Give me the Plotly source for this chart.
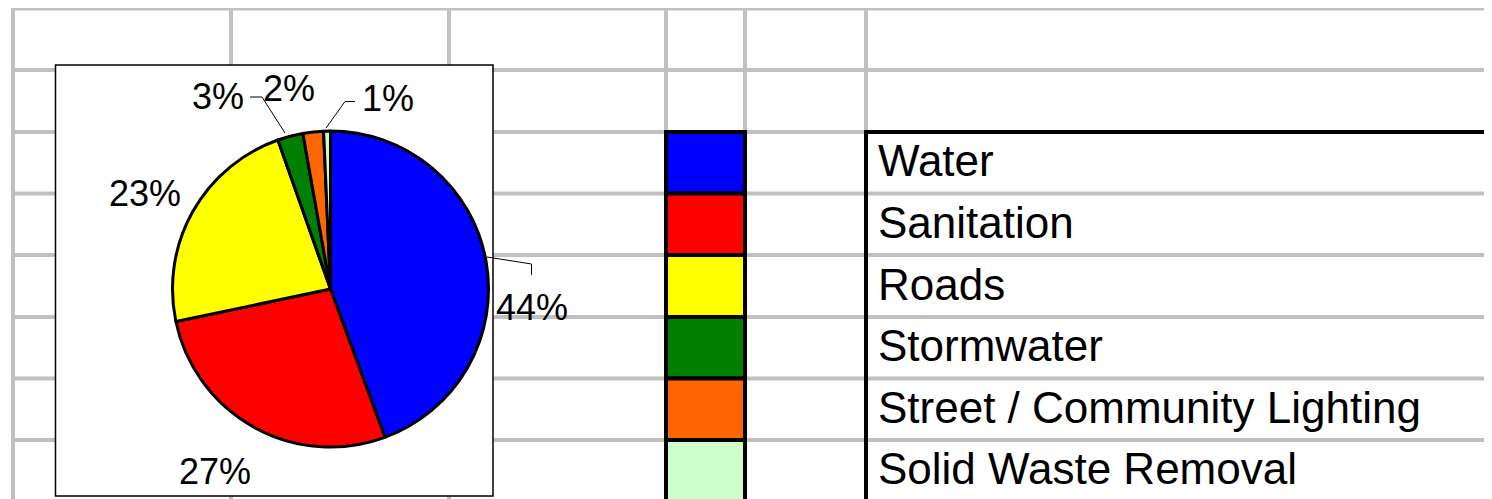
import plotly.graph_objects as go

# ---- data ----
categories = ["Water", "Sanitation", "Roads", "Stormwater",
              "Street / Community Lighting", "Solid Waste Removal"]
values = [44.4, 27.3, 22.9, 2.6, 2.1, 0.7]
colors = ["#0000FF", "#FF0000", "#FFFF00", "#008000", "#FF6600", "#CCFFCC"]

# ---- layout geometry (page pixel units; the page body has an 8px margin) ----
PAGE_W, PAGE_H, OFF = 1492, 499, 8
W, H = PAGE_W - OFF, PAGE_H - OFF
row_y = [8.5, 70, 132, 193.5, 255, 317, 378.5, 440, 501.5]
col_x = [13, 231, 449, 666, 745, 866]
grid_color = "#C0C0C0"
FONT = "Arial, Liberation Sans, sans-serif"

shapes = []
# spreadsheet grid
for y in row_y:
    shapes.append(dict(type="line", xref="x", yref="y", x0=13, x1=PAGE_W + 5, y0=y, y1=y,
                       line=dict(color=grid_color, width=4), layer="below"))
for x in col_x:
    shapes.append(dict(type="line", xref="x", yref="y", x0=x, x1=x, y0=row_y[0] - 2, y1=PAGE_H + 5,
                       line=dict(color=grid_color, width=4), layer="below"))

# chart box
box = dict(x0=55.5, y0=65, x1=493, y1=496)
shapes.append(dict(type="rect", xref="x", yref="y", **box,
                   fillcolor="white", line=dict(color="black", width=1.5), layer="below"))

# legend table: colour cells
table_rows = row_y[2:2 + len(categories) + 1]
for i, c in enumerate(colors):
    shapes.append(dict(type="rect", xref="x", yref="y", x0=col_x[3], x1=col_x[4],
                       y0=table_rows[i], y1=table_rows[i + 1], fillcolor=c,
                       line=dict(color="black", width=4), layer="below"))
# black frame of the label column
shapes.append(dict(type="line", xref="x", yref="y", x0=col_x[5], x1=PAGE_W + 5, y0=row_y[2], y1=row_y[2],
                   line=dict(color="black", width=4), layer="below"))
shapes.append(dict(type="line", xref="x", yref="y", x0=col_x[5], x1=col_x[5], y0=row_y[2] - 2,
                   y1=PAGE_H + 5, line=dict(color="black", width=4), layer="below"))

# leader lines of pie labels
leaders = [
    "M 487,257 L 531.5,264 L 531.5,275",
    "M 250,97 L 262,97 L 285,133",
    "M 355,101.5 L 345,101.5 L 326,128",
]
for p in leaders:
    shapes.append(dict(type="path", xref="x", yref="y", path=p,
                       line=dict(color="black", width=1)))

annotations = []
# legend table labels
for i, cat in enumerate(categories):
    yc = (table_rows[i] + table_rows[i + 1]) / 2 - 2
    if i == len(categories) - 1:
        yc = 468
    annotations.append(dict(xref="x", yref="y", x=876, y=yc, text=cat, showarrow=False,
                            xanchor="left", yanchor="middle",
                            font=dict(family=FONT, size=44, color="black")))

# pie percentage labels
total = sum(values)
label_pos = [(532, 307), (215, 471), (145, 193), (218, 96), (289, 88), (388, 98)]
for v, (lx, ly) in zip(values, label_pos):
    annotations.append(dict(xref="x", yref="y", x=lx, y=ly, text=f"{v / total * 100:.0f}%",
                            showarrow=False, xanchor="center", yanchor="middle",
                            font=dict(family=FONT, size=36, color="black")))

# pie placement (page pixels)
cx, cy, r = 330.5, 289, 158

fig = go.Figure()
fig.add_trace(go.Scatter(x=[OFF], y=[OFF], mode="markers", marker=dict(opacity=0),
                         hoverinfo="skip", showlegend=False))
fig.add_trace(go.Pie(
    labels=categories, values=values, sort=False, direction="clockwise", rotation=0,
    marker=dict(colors=colors, line=dict(color="black", width=3)),
    textinfo="none", showlegend=False, hoverinfo="label+percent",
    domain=dict(x=[(cx - r - OFF) / W, (cx + r - OFF) / W],
                y=[1 - (cy + r - OFF) / H, 1 - (cy - r - OFF) / H]),
))

fig.update_layout(
    width=W, height=H, margin=dict(l=0, r=0, t=0, b=0),
    paper_bgcolor="white", plot_bgcolor="white",
    xaxis=dict(range=[OFF, PAGE_W], visible=False, fixedrange=True, domain=[0, 1]),
    yaxis=dict(range=[PAGE_H, OFF], visible=False, fixedrange=True, domain=[0, 1]),
    shapes=shapes, annotations=annotations, showlegend=False,
)

fig.write_html("out.html")
